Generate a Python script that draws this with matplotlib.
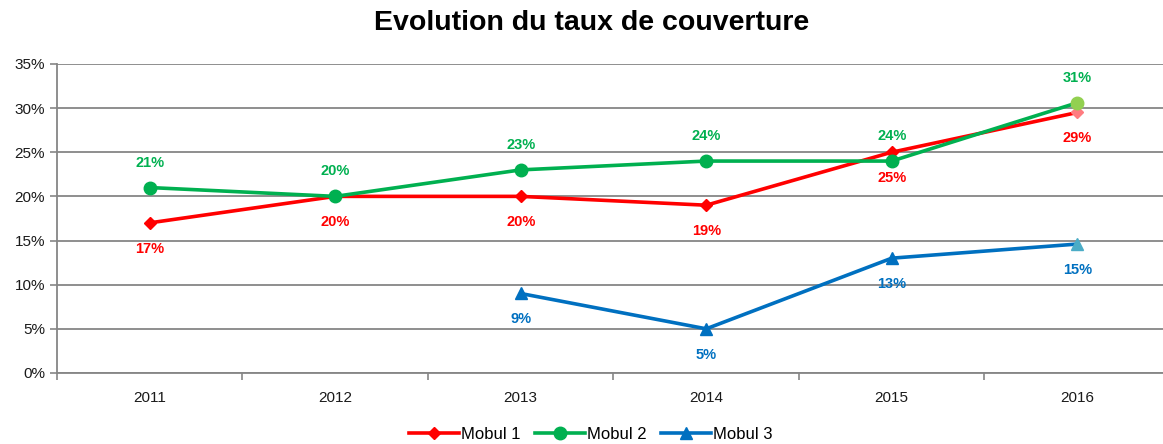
import numpy as np
import matplotlib
matplotlib.use("Agg")
import matplotlib.pyplot as plt

years = ["2011", "2012", "2013", "2014", "2015", "2016"]
mobul1 = [17, 20, 20, 19, 25, 29.5]
mobul2 = [21, 20, 23, 24, 24, 30.6]
mobul3 = [np.nan, np.nan, 9, 5, 13, 14.6]
labels1 = ["17%", "20%", "20%", "19%", "25%", "29%"]
labels2 = ["21%", "20%", "23%", "24%", "24%", "31%"]
labels3 = [None, None, "9%", "5%", "13%", "15%"]

plt.rcParams['font.family'] = ['Liberation Sans', 'DejaVu Sans']

fig = plt.figure(figsize=(11.63, 4.44), dpi=100)
ax = fig.add_axes([0.049, 0.16, 0.957, 0.696])

x = np.arange(len(years))
series = [
    ("Mobul 1", mobul1, labels1, '#FF0000', '#FF7C80', 'D', 6, -18.5),
    ("Mobul 2", mobul2, labels2, '#00B050', '#92D050', 'o', 9, 18),
    ("Mobul 3", mobul3, labels3, '#0070C0', '#4BACC6', '^', 8, -18.5),
]

for name, vals, labs, col, last_col, mk, ms, off in series:
    ax.plot(x, vals, color=col, lw=2.6, marker=mk, ms=ms, markevery=list(range(len(x) - 1)),
            label=name, zorder=3)
    ax.plot(x[-1:], vals[-1:], color=last_col, marker=mk, ms=ms, ls='none', zorder=4)
    for xi, v, t in zip(x, vals, labs):
        if t is None:
            continue
        ax.annotate(t, (xi, v), xytext=(0, off), textcoords='offset points',
                    ha='center', va='center', color=col, fontsize=10.5, fontweight='bold')

ax.set_xlim(-0.5, 5.5)
ax.set_ylim(0, 35)
ax.set_yticks(np.arange(0, 36, 5))
ax.set_yticklabels([f"{v}%" for v in range(0, 36, 5)])
ax.set_xticks(np.arange(-0.5, 6, 1))
ax.set_xticklabels([])
ax.set_xticks(x, minor=True)
ax.set_xticklabels(years, minor=True)
ax.tick_params(axis='x', which='minor', length=0, pad=13, labelsize=11, colors='#1a1a1a')
ax.tick_params(axis='x', which='major', length=5, color='#868686', width=1.2)
ax.tick_params(axis='y', length=5, color='#868686', width=1.2, labelsize=11, labelcolor='#1a1a1a')
ax.grid(axis='y', color='#868686', lw=1.3)
ax.set_axisbelow(True)
for s in ['top', 'right']:
    ax.spines[s].set_visible(False)
for s in ['left', 'bottom']:
    ax.spines[s].set_color('#868686')
    ax.spines[s].set_linewidth(1.3)

fig.suptitle("Evolution du taux de couverture", x=0.509, y=0.978, fontsize=20.5, fontweight='bold')
fig.legend(loc='lower center', bbox_to_anchor=(0.508, -0.03), ncol=3, frameon=False,
           fontsize=12, handlelength=3.0, columnspacing=0.9, handletextpad=0.1)

plt.savefig("out.png", dpi=100)
